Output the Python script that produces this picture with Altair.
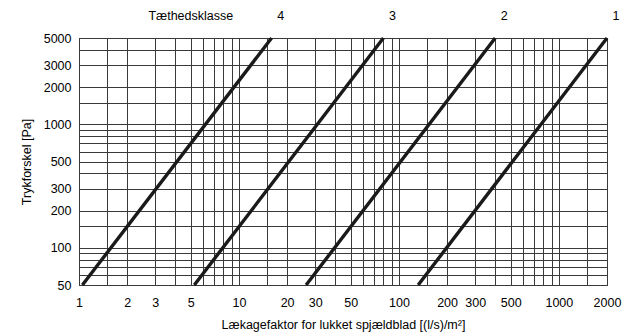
import altair as alt
import pandas as pd

# Tæthedsklasse (density classes) and their line endpoints
classes = ["4", "3", "2", "1"]
pressure_low = 50
pressure_high = 5000
leak_at_low = [1.05, 5.26, 26.3, 132]      # leakage factor at 50 Pa
leak_at_high = [16, 80, 400, 2000]         # leakage factor at 5000 Pa

# grid and tick lists
x_grid = [1, 1.5, 2, 3, 4, 5, 6, 7, 8, 9,
          10, 15, 20, 30, 40, 50, 60, 70, 80, 90,
          100, 150, 200, 300, 400, 500, 600, 700, 800, 900,
          1000, 1500, 2000]
x_labels = [1, 2, 3, 5, 10, 20, 30, 50, 100, 200, 300, 500, 1000, 2000]
y_grid = [50, 60, 70, 80, 90, 100, 150, 200, 300, 400, 500, 600, 700, 800, 900,
          1000, 1500, 2000, 3000, 4000, 5000]
y_labels = [50, 100, 200, 300, 500, 1000, 2000, 3000, 5000]

rows = []
for c, lo, hi in zip(classes, leak_at_low, leak_at_high):
    rows.append({"klasse": c, "leak": lo, "p": pressure_low})
    rows.append({"klasse": c, "leak": hi, "p": pressure_high})
df = pd.DataFrame(rows)
tops = pd.DataFrame({"klasse": classes, "leak": leak_at_high,
                     "p": [pressure_high] * len(classes)})

FONT = "Liberation Sans"


def label_expr(vals):
    return "indexof([" + ",".join(str(v) for v in vals) + "], datum.value) >= 0 ? datum.label : ''"


xscale = alt.Scale(type="log", domain=[1, 2000], nice=False)
yscale = alt.Scale(type="log", domain=[50, 5000], nice=False)

xaxis = alt.Axis(values=x_grid, labelExpr=label_expr(x_labels), format="d",
                 title="Lækagefaktor for lukket spjældblad [(l/s)/m²]",
                 labelOverlap=False, labelFlush=False, labelPadding=11,
                 titlePadding=10)
yaxis = alt.Axis(values=y_grid, labelExpr=label_expr(y_labels), format="d",
                 title="Trykforskel [Pa]", labelOverlap=False, labelFlush=False,
                 labelPadding=8, titlePadding=10)

lines = alt.Chart(df).mark_line(color="#1a1a1a", strokeWidth=3.4, strokeCap="butt").encode(
    x=alt.X("leak:Q", scale=xscale, axis=xaxis),
    y=alt.Y("p:Q", scale=yscale, axis=yaxis),
    detail="klasse:N",
)

class_labels = alt.Chart(tops).mark_text(
    font=FONT, fontSize=12.5, color="black", dx=9, dy=-22, baseline="middle"
).encode(
    x=alt.X("leak:Q", scale=xscale),
    y=alt.Y("p:Q", scale=yscale),
    text="klasse:N",
)

heading = alt.Chart(pd.DataFrame({"t": ["Tæthedsklasse"]})).mark_text(
    font=FONT, fontSize=12.5, color="black", dy=-22, baseline="middle"
).encode(
    x=alt.X(datum=5, scale=xscale),
    y=alt.Y(datum=5000, scale=yscale),
    text="t:N",
)

chart = alt.layer(lines, class_labels, heading).properties(
    width=528, height=247,
    autosize="none",
    padding={"left": 71, "top": 30, "right": 15, "bottom": 50},
).configure_view(
    stroke="black", strokeWidth=1
).configure_axis(
    grid=True, gridColor="#3a3a3a", gridWidth=1, gridOpacity=1,
    domain=False, ticks=False, tickSize=0,
    labelFont=FONT, labelFontSize=12.5, labelColor="black",
    titleFont=FONT, titleFontSize=12.5, titleFontWeight="normal", titleColor="black",
)

chart.save("out.html", embed_options={"renderer": "svg", "actions": False})
